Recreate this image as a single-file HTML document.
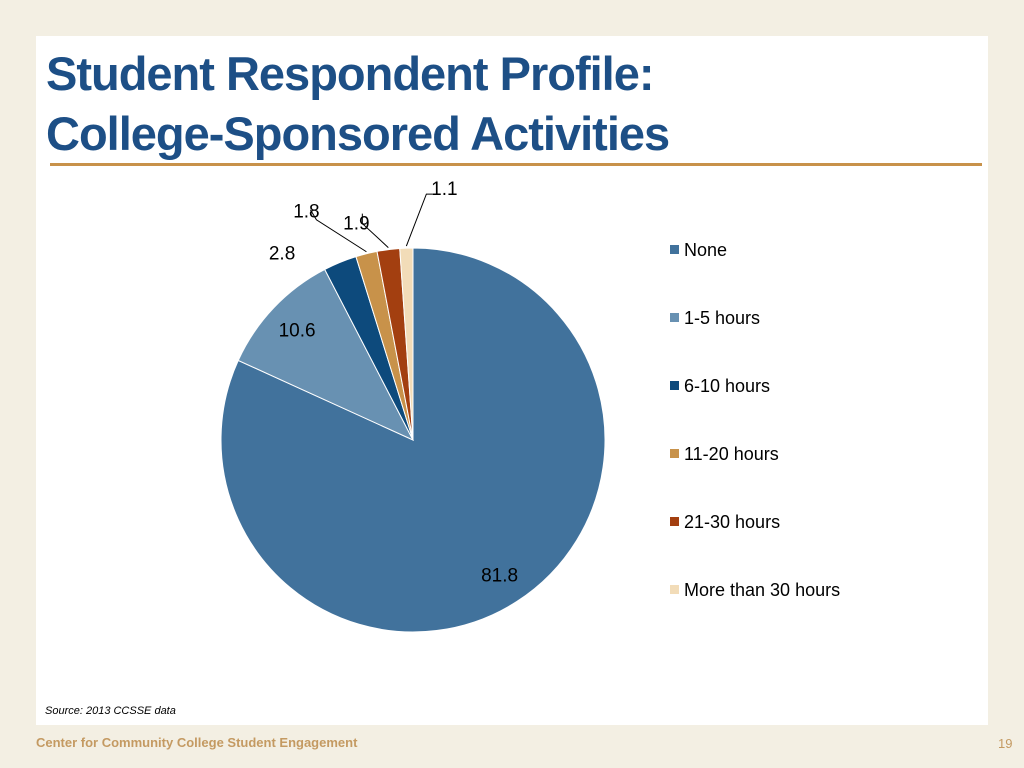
<!DOCTYPE html>
<html><head><meta charset="utf-8"><style>
body{margin:0;width:1024px;height:768px;background:#f3efe3;font-family:"Liberation Sans",sans-serif;position:relative;overflow:hidden}
#panel{position:absolute;left:36px;top:36px;width:952px;height:689px;background:#fff}
#title{position:absolute;left:46px;top:44px;font-family:"Liberation Sans Narrow","Liberation Sans",sans-serif;font-weight:bold;font-size:47px;line-height:60px;color:#1d4f86;letter-spacing:-1px}
#rule{position:absolute;left:50px;top:163px;width:932px;height:3px;background:#c8924a}
#src{position:absolute;left:45px;top:705px;font-size:11px;font-style:italic;color:#000}
#footer{position:absolute;left:36px;top:735px;font-family:"Liberation Sans Narrow","Liberation Sans",sans-serif;font-weight:bold;font-size:13px;color:#c49a62}
#pg{position:absolute;left:998px;top:736px;font-size:13px;color:#c49a62}
svg{position:absolute;left:0;top:0}
</style></head><body>
<div id="panel"></div>
<div id="title">Student Respondent Profile:<br>College-Sponsored Activities</div>
<div id="rule"></div>
<div id="src">Source: 2013 CCSSE data</div>
<div id="footer">Center for Community College Student Engagement</div>
<div id="pg">19</div>
<svg id="chart" width="1024" height="768"></svg>
<script>
const categories=["None","1-5 hours","6-10 hours","11-20 hours","21-30 hours","More than 30 hours"];
const values=[81.8,10.6,2.8,1.8,1.9,1.1];
const colors=["#41729c","#6891b2","#0d4a7c","#c8924a","#a33f10","#f2dcb8"];
const NS="http://www.w3.org/2000/svg";
const svg=document.getElementById('chart');
const cx=413,cy=440,r=192;
const total=values.reduce((a,b)=>a+b,0);
function pt(a,rad){return [cx+rad*Math.sin(a),cy-rad*Math.cos(a)];}
function mk(t,attrs){const e=document.createElementNS(NS,t);for(const k in attrs)e.setAttribute(k,attrs[k]);svg.appendChild(e);return e;}
let a=0;
const smallOff=[[0,0],[0,0],[-58,-10],[-46,-30],[-22,-22],[26,-40]];
values.forEach((v,i)=>{
  const a2=a+v/total*Math.PI*2;
  const p1=pt(a,r),p2=pt(a2,r);
  const large=(a2-a)>Math.PI?1:0;
  const p=mk('path',{d:`M${cx},${cy}L${p1[0]},${p1[1]}A${r},${r} 0 ${large} 1 ${p2[0]},${p2[1]}Z`,fill:colors[i],stroke:'#fff','stroke-width':1});
  
  
  const mid=(a+a2)/2;
  let lx,ly;
  if(v>5){[lx,ly]=pt(mid,160);}
  else{const e=pt(mid,r);lx=e[0]+smallOff[i][0];ly=e[1]+smallOff[i][1];
    if(i>=3){const ln=mk('polyline',{points:`${e[0]},${e[1]-2} ${lx+(i==5?-6:-4)},${ly+(i==5?-14:-4)} ${lx+(i==5?0:-4)+(i==3?-6:0)},${ly-14}`,fill:'none',stroke:'#000','stroke-width':1});
      
      }}
  const t=mk('text',{x:lx,y:ly+7,'text-anchor':'middle','font-size':19,'font-family':'Liberation Sans, sans-serif',fill:'#000'});
  if(i==3){t.setAttribute('x',lx-14);t.setAttribute('y',ly-6);}
  if(i==4){t.setAttribute('x',lx-10);t.setAttribute('y',ly+2);}
  if(i==5){t.setAttribute('x',lx+12);t.setAttribute('y',ly-13);}
  t.textContent=v.toFixed(1);
  
  
  a=a2;
});
categories.forEach((c,i)=>{
  const y=250+i*68;
  const s=mk('rect',{x:670,y:y-5,width:9,height:9,fill:colors[i]});
  
  
  const t=mk('text',{x:684,y:y+6,'font-size':18,'font-family':'Liberation Sans, sans-serif',fill:'#000'});
  t.textContent=c;
  
  
});
</script>
</body></html>
